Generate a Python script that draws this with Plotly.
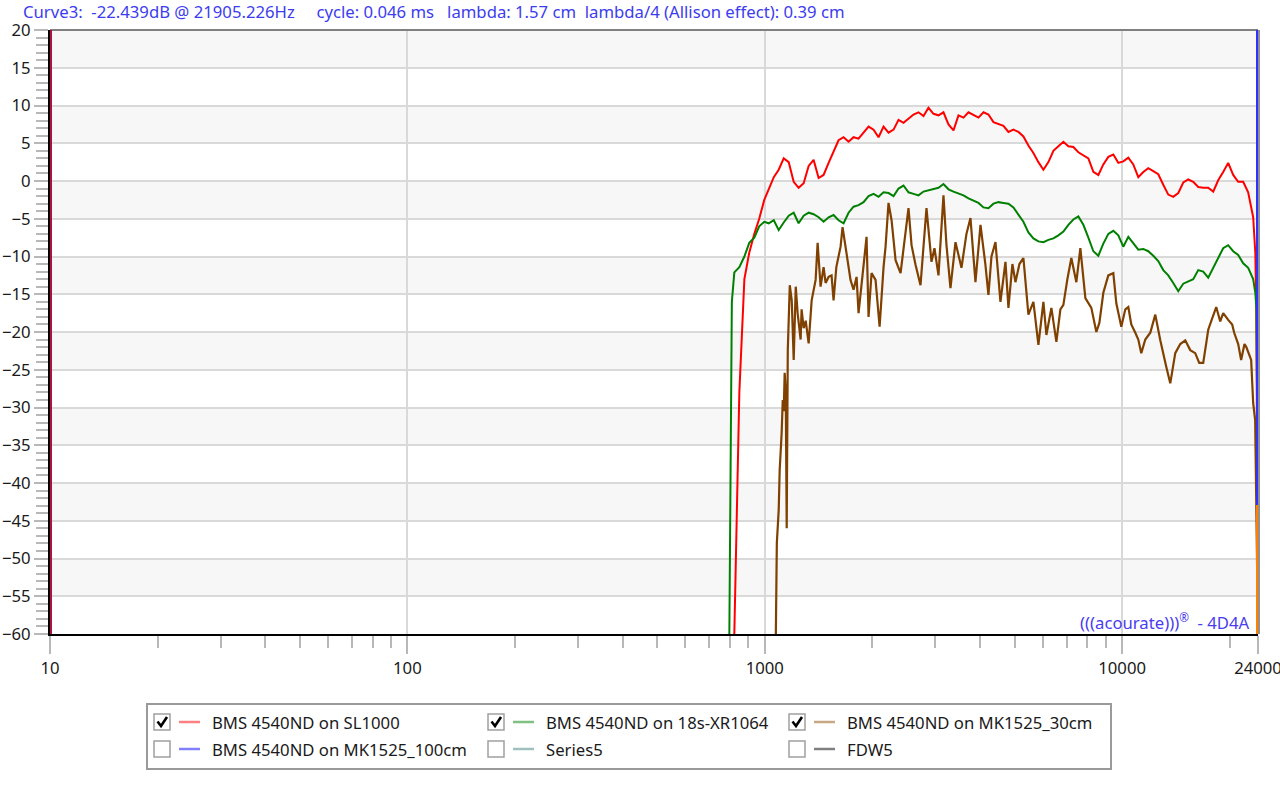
import plotly.graph_objects as go

# ---------------- data ----------------
red_freq = [822, 849, 877, 905, 935, 965, 997, 1026, 1060, 1094,
            1130, 1167, 1205, 1244, 1285, 1327, 1370, 1415, 1461, 1509,
            1558, 1609, 1662, 1716, 1772, 1830, 1890, 1952, 2016, 2082,
            2150, 2220, 2293, 2368, 2445, 2525, 2608, 2693, 2781, 2872,
            2966, 3063, 3163, 3267, 3374, 3484, 3598, 3716, 3837, 3963,
            4093, 4226, 4365, 4507, 4655, 4807, 4964, 5127, 5294, 5467,
            5646, 5831, 6022, 6219, 6422, 6632, 6849, 7073, 7304, 7543,
            7790, 8045, 8308, 8580, 8860, 9150, 9449, 9758, 10077, 10407,
            10747, 11099, 11462, 11836, 12223, 12623, 13036, 13462, 13903, 14357,
            14827, 15312, 15812, 16329, 16863, 17415, 17984, 18572, 19180, 19807,
            20455, 21124, 21815, 22528, 23265, 23590, 23740, 24000]
red_db = [-60, -28, -13, -9.5, -7, -5, -2.5, -1.2, 0.5, 1.5,
          3.0, 2.5, -0.1, -0.9, -0.3, 2.0, 2.8, 0.4, 0.8, 2.4,
          4.0, 5.4, 5.8, 5.2, 5.8, 5.6, 6.4, 7.2, 6.8, 5.8,
          7.2, 6.4, 6.8, 8.1, 7.7, 8.2, 8.8, 9.1, 8.6, 9.7,
          8.9, 8.7, 9.1, 7.5, 6.7, 8.7, 8.4, 9.1, 8.8, 8.4,
          9.1, 8.8, 7.8, 7.6, 7.3, 6.5, 6.8, 6.5, 5.9, 4.7,
          3.7, 2.5, 1.5, 2.5, 4.0, 4.6, 5.2, 4.6, 4.5, 3.8,
          3.4, 3.0, 1.2, 0.8, 2.2, 3.2, 3.5, 2.4, 2.6, 3.1,
          2.2, 0.5, 1.2, 1.7, 1.3, 0.9, -0.5, -1.8, -2.1, -1.6,
          -0.2, 0.2, -0.1, -0.8, -0.9, -0.9, -1.4, 0.1, 1.2, 2.4,
          0.8, -0.1, -0.1, -1.5, -4.8, -9.5, -16.7, -60]

green_freq = [796, 801, 809,
              822, 849, 877, 905, 935, 965, 997, 1026, 1060, 1094,
              1130, 1167, 1205, 1244, 1285, 1327, 1370, 1415, 1461, 1509,
              1558, 1609, 1662, 1716, 1772, 1830, 1890, 1952, 2016, 2082,
              2150, 2220, 2293, 2368, 2445, 2525, 2608, 2693, 2781, 2872,
              2966, 3063, 3163, 3267, 3374, 3484, 3598, 3716, 3837, 3963,
              4093, 4226, 4365, 4507, 4655, 4807, 4964, 5127, 5294, 5467,
              5646, 5831, 6022, 6219, 6422, 6632, 6849, 7073, 7304, 7543,
              7790, 8045, 8308, 8580, 8860, 9150, 9449, 9758, 10077, 10407,
              10747, 11099, 11462, 11836, 12223, 12623, 13036, 13462, 13903, 14357,
              14827, 15312, 15812, 16329, 16863, 17415, 17984, 18572, 19180, 19807,
              20455, 21124, 21815, 22528, 23265, 23590, 23740, 24000]
green_db = [-60, -40, -16,
            -12.1, -11.4, -10.0, -8.2, -7.5, -6.0, -5.4, -5.6, -5.2, -6.5,
            -5.5, -4.6, -4.2, -5.6, -4.6, -4.2, -4.4, -4.8, -5.4, -4.8,
            -4.5, -5.2, -5.6, -4.2, -3.4, -3.2, -2.8, -2.0, -1.7, -2.1,
            -1.5, -1.6, -2.0, -1.0, -0.6, -1.5, -1.7, -1.9, -1.4, -1.2,
            -1.0, -0.9, -0.4, -1.1, -1.4, -1.6, -1.9, -2.3, -2.6, -2.9,
            -3.5, -3.6, -3.0, -2.8, -2.9, -3.0, -3.5, -4.5, -5.4, -6.8,
            -7.6, -8.0, -8.1, -7.8, -7.6, -7.2, -6.7, -5.8, -5.1, -4.7,
            -5.8, -7.5, -9.3, -9.9, -8.3, -7.0, -6.6, -7.2, -8.7, -7.4,
            -8.2, -9.1, -9.0, -9.3, -9.9, -10.6, -11.8, -12.5, -13.5, -14.6,
            -13.6, -13.3, -13.0, -11.8, -12.0, -12.8, -11.5, -10.2, -8.9, -8.5,
            -9.3, -9.8, -10.9, -11.5, -13.0, -14.8, -16.7, -42]

brown_freq = [1074, 1081, 1094, 1101, 1115, 1123, 1130, 1137, 1145, 1152,
              1160, 1175, 1190, 1205, 1221, 1236, 1260, 1268, 1285, 1302,
              1327, 1353, 1388, 1406, 1433, 1461, 1480, 1509, 1538, 1558,
              1586, 1630, 1651, 1683, 1716, 1738, 1772, 1807, 1830, 1854,
              1890, 1927, 1952, 1990, 2042, 2096, 2150, 2178, 2220, 2264,
              2293, 2323, 2399, 2461, 2525, 2575, 2642, 2728, 2835, 2928,
              2985, 3063, 3163, 3225, 3309, 3418, 3552, 3668, 3764, 3887,
              4015, 4145, 4226, 4309, 4422, 4566, 4716, 4807, 4932, 5029,
              5160, 5294, 5467, 5646, 5831, 6022, 6139, 6340, 6547, 6718,
              6849, 7028, 7210, 7446, 7641, 7891, 8201, 8470, 8636, 8860,
              9150, 9449, 9633, 9948, 10208, 10407, 10609, 10887, 11099, 11314,
              11611, 11990, 12382, 12787, 13036, 13289, 13637, 13903, 14083, 14544,
              15020, 15511, 16017, 16435, 16863, 17191, 17415, 17868, 18338, 18815,
              19180, 19807, 20323, 20588, 21124, 21529, 22000, 22260, 22665, 22965,
              23265, 23570, 24000]
brown_db = [-60, -48, -43.6, -38.3, -33.4, -29, -30.5, -25.4, -28, -46,
            -22.4, -13.8, -15.8, -23.7, -14.0, -17.5, -21, -17, -19.5, -18.5,
            -21.5, -15.8, -13.1, -8.2, -14.0, -11.4, -13.5, -12.7, -12.5, -15.8,
            -11.4, -8.7, -6.1, -8.7, -11.8, -13.1, -14.4, -12.7, -17.5, -15,
            -11.4, -7.4, -18, -12.2, -13.1, -19.3, -11.4, -8.7, -2.9, -5.2,
            -7.8, -10.5, -12.2, -8, -3.6, -8.5, -11.1, -13.8, -3.6, -10.7,
            -8.9, -12.5, -1.9, -8.5, -14.2, -8.1, -11.5, -7, -4.9, -13.4,
            -5.8, -11.1, -15.1, -10, -8.1, -16.0, -10.7, -16.8, -11, -13.4,
            -11, -10.2, -17.7, -16.0, -21.7, -16.0, -20.4, -16.8, -21.3, -17,
            -16.4, -13, -10.2, -13.4, -8.9, -15.5, -16.8, -20, -18.8, -14.8,
            -12.5, -12.2, -16.2, -19.3, -17, -16.7, -19, -20.1, -21, -22.8,
            -21, -20.1, -17.7, -21.1, -23, -24.6, -26.8, -24, -22.8, -21.6,
            -21.1, -22.4, -22.8, -24.1, -24.1, -21.5, -19.7, -18.2, -16.7, -18.6,
            -17.5, -18.4, -19, -20.1, -21.6, -23.7, -21.6, -22.0, -23, -23.7,
            -29.4, -31.7, -60]

x_tick_vals = [10, 100, 1000, 10000, 24000]
x_tick_text = ["10", "100", "1000", "10000", "24000"]
x_minor_vals = [20, 30, 40, 50, 60, 70, 80, 90,
                200, 300, 400, 500, 600, 700, 800, 900,
                2000, 3000, 4000, 5000, 6000, 7000, 8000, 9000, 20000]

legend_names = ["BMS 4540ND on SL1000", "BMS 4540ND on 18s-XR1064", "BMS 4540ND on MK1525_30cm",
                "BMS 4540ND on MK1525_100cm", "Series5", "FDW5"]
legend_colors = ["#ff8080", "#80c080", "#c8a882", "#8080ff", "#a0c0c0", "#808080"]
legend_checked = [True, True, True, False, False, False]

header_text = ("Curve3:&nbsp;&nbsp;-22.439dB @ 21905.226Hz&nbsp;&nbsp;&nbsp;&nbsp;&nbsp;cycle: 0.046 ms"
               "&nbsp;&nbsp;&nbsp;lambda: 1.57 cm&nbsp;&nbsp;lambda/4 (Allison effect): 0.39 cm")
watermark_text = "(((acourate)))<sup>®</sup>&nbsp;&nbsp;-&nbsp;4D4A"

# ---------------- geometry helpers (layout only) ----------------
W, H = 1280, 798
L, R, T, B = 50, 1258, 30, 634        # plot area in page pixels


def px(x):
    return (x - L) / (R - L)


def py(y):
    return (B - y) / (B - T)


FONT = "Noto Sans, Open Sans, sans-serif"
FS = 16.7
TXT = "#1a1a1a"
TICKC = "#b8b8b8"
GRIDC = "#d9d9d9"

fig = go.Figure()
fig.add_trace(go.Scatter(x=red_freq, y=red_db, mode="lines",
                         line=dict(color="#ff0000", width=2), showlegend=False, hoverinfo="skip"))
fig.add_trace(go.Scatter(x=green_freq, y=green_db, mode="lines",
                         line=dict(color="#008000", width=2), showlegend=False, hoverinfo="skip"))
fig.add_trace(go.Scatter(x=brown_freq, y=brown_db, mode="lines",
                         line=dict(color="#804000", width=2.2), showlegend=False, hoverinfo="skip"))

shapes = []
# alternating bands
for lo in range(-55, 20, 10):
    shapes.append(dict(type="rect", xref="paper", yref="y", x0=0, x1=1, y0=lo, y1=lo + 5,
                       fillcolor="#f7f7f7", line=dict(width=0), layer="below"))
# frame pieces
shapes.append(dict(type="line", xref="paper", yref="paper", x0=0, x1=1, y0=1, y1=1,
                   line=dict(color="#808080", width=2)))
shapes.append(dict(type="line", xref="paper", yref="paper", x0=px(1259), x1=px(1259), y0=0, y1=1,
                   line=dict(color="#909090", width=2)))
shapes.append(dict(type="line", xref="paper", yref="paper", x0=px(1257), x1=px(1257), y0=py(510), y1=1,
                   line=dict(color="#3030ff", width=2)))
shapes.append(dict(type="line", xref="paper", yref="paper", x0=px(1257), x1=px(1257), y0=0, y1=py(505),
                   line=dict(color="#ff8000", width=2)))
shapes.append(dict(type="line", xref="paper", yref="paper", x0=px(51), x1=px(51), y0=0, y1=1,
                   line=dict(color="#b0104a", width=2)))

annotations = []
annotations.append(dict(xref="paper", yref="paper", x=px(21), y=py(12), xanchor="left", yanchor="middle",
                        text=header_text, showarrow=False, font=dict(family=FONT, size=FS, color="#3c3cf0")))
annotations.append(dict(xref="paper", yref="paper", x=px(1252), y=py(622), xanchor="right", yanchor="middle",
                        text=watermark_text, showarrow=False, font=dict(family=FONT, size=FS, color="#4a3cf0")))

# legend group box
shapes.append(dict(type="rect", xref="paper", yref="paper", x0=px(147), x1=px(1111), y0=py(769), y1=py(704),
                   line=dict(color="#9a9a9a", width=2), fillcolor="rgba(0,0,0,0)"))
col_x = [154, 488, 789]
row_y = [722, 749]
for i, name in enumerate(legend_names):
    cx = col_x[i % 3]
    cy = row_y[i // 3]
    shapes.append(dict(type="rect", xref="paper", yref="paper", x0=px(cx), x1=px(cx + 16),
                       y0=py(cy + 8), y1=py(cy - 8), line=dict(color="#a0a0a0", width=1.5),
                       fillcolor="white"))
    if legend_checked[i]:
        path = "M {:.5f},{:.5f} L {:.5f},{:.5f} L {:.5f},{:.5f}".format(
            px(cx + 3.5), py(cy - 0.5), px(cx + 7), py(cy + 4), px(cx + 13), py(cy - 5))
        shapes.append(dict(type="path", xref="paper", yref="paper", path=path,
                           line=dict(color="black", width=2.6)))
    shapes.append(dict(type="line", xref="paper", yref="paper", x0=px(cx + 25), x1=px(cx + 46),
                       y0=py(cy), y1=py(cy), line=dict(color=legend_colors[i], width=2.5)))
    annotations.append(dict(xref="paper", yref="paper", x=px(cx + 56), y=py(cy), xanchor="left",
                            yanchor="middle", text=name, showarrow=False,
                            font=dict(family=FONT, size=FS, color=TXT)))

fig.update_layout(
    width=W, height=H,
    margin=dict(l=L, r=W - R, t=T, b=H - B, pad=0, autoexpand=False),
    paper_bgcolor="white", plot_bgcolor="white",
    showlegend=False,
    shapes=shapes, annotations=annotations,
    xaxis=dict(type="log", range=[1, 4.38022], tickmode="array",
               tickvals=x_tick_vals, ticktext=x_tick_text, automargin=False,
               ticklabeloverflow="allow",
               ticks="outside", ticklen=18, tickwidth=2, tickcolor=TICKC,
               showgrid=True, gridcolor=GRIDC, gridwidth=2,
               showline=True, linecolor="black", linewidth=2, zeroline=False,
               tickfont=dict(family=FONT, size=FS, color=TXT),
               minor=dict(tickmode="array", tickvals=x_minor_vals, ticks="outside", ticklen=12,
                          tickwidth=2, tickcolor=TICKC, showgrid=False)),
    yaxis=dict(range=[-60, 20], tickmode="linear", tick0=0, dtick=5, automargin=False,
               ticks="outside", ticklen=14, tickwidth=2, tickcolor=TICKC,
               showgrid=True, gridcolor=GRIDC, gridwidth=2,
               showline=True, linecolor="black", linewidth=2, zeroline=False,
               tickfont=dict(family=FONT, size=FS, color=TXT),
               minor=dict(dtick=1, ticks="outside", ticklen=12, tickwidth=2, tickcolor=TICKC,
                          showgrid=False)),
)

# remove the default 8px page margin so the figure sits at the page origin
fig.write_html("out.html", config={"displayModeBar": False},
               post_script="document.body.style.margin='0';document.body.style.overflow='hidden';")
